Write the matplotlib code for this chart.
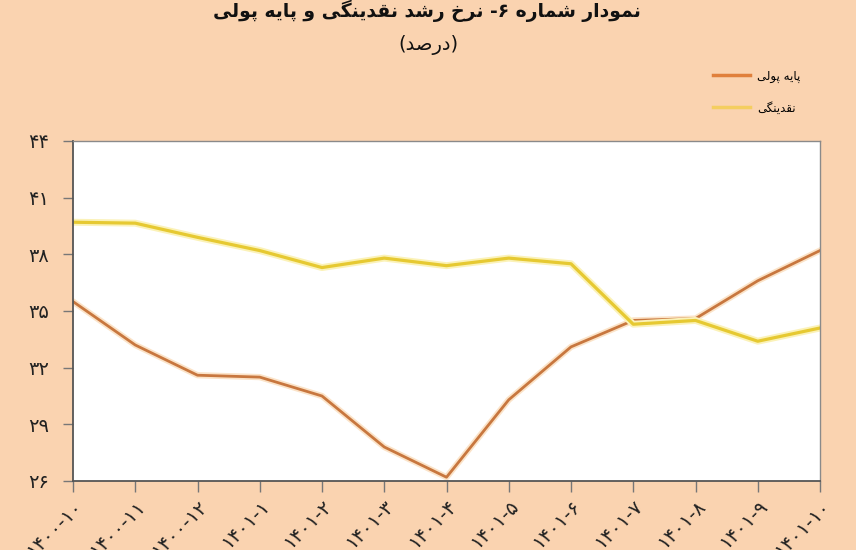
import matplotlib
matplotlib.use("Agg")
import matplotlib.pyplot as plt
from matplotlib.ticker import FuncFormatter
import matplotlib.patheffects as pe

# ---------------- data ----------------
categories = ["۱۴۰۰-۱۰", "۱۴۰۰-۱۱", "۱۴۰۰-۱۲", "۱۴۰۱-۱", "۱۴۰۱-۲", "۱۴۰۱-۳", "۱۴۰۱-۴",
              "۱۴۰۱-۵", "۱۴۰۱-۶", "۱۴۰۱-۷", "۱۴۰۱-۸", "۱۴۰۱-۹", "۱۴۰۱-۱۰"]
monetary_base = [35.5, 33.2, 31.6, 31.5, 30.5, 27.8, 26.2, 30.3, 33.1, 34.5, 34.6, 36.6, 38.2]
liquidity = [39.7, 39.65, 38.9, 38.2, 37.3, 37.8, 37.4, 37.8, 37.5, 34.3, 34.5, 33.4, 34.1]
y_ticks = [26, 29, 32, 35, 38, 41, 44]

title = "نمودار شماره ۶- نرخ رشد نقدینگی و پایه پولی"
subtitle = "درصد"
label_base = "پایه پولی"
label_liq = "نقدینگی"

# ---------------- simple Arabic/Persian shaping (matplotlib has no RTL shaping) --------------
FORMS = {
    '\u0627': ('\uFE8D', '\uFE8E', None, None),
    '\u062F': ('\uFEA9', '\uFEAA', None, None),
    '\u0631': ('\uFEAD', '\uFEAE', None, None),
    '\u0648': ('\uFEED', '\uFEEE', None, None),
    '\u0646': ('\uFEE5', '\uFEE6', '\uFEE7', '\uFEE8'),
    '\u0645': ('\uFEE1', '\uFEE2', '\uFEE3', '\uFEE4'),
    '\u0634': ('\uFEB5', '\uFEB6', '\uFEB7', '\uFEB8'),
    '\u0647': ('\uFEE9', '\uFEEA', '\uFEEB', '\uFEEC'),
    '\u062E': ('\uFEA5', '\uFEA6', '\uFEA7', '\uFEA8'),
    '\u0642': ('\uFED5', '\uFED6', '\uFED7', '\uFED8'),
    '\u06CC': ('\uFBFC', '\uFBFD', '\uFBFE', '\uFBFF'),
    '\u06AF': ('\uFB92', '\uFB93', '\uFB94', '\uFB95'),
    '\u067E': ('\uFB56', '\uFB57', '\uFB58', '\uFB59'),
    '\u0644': ('\uFEDD', '\uFEDE', '\uFEDF', '\uFEE0'),
    '\u0635': ('\uFEB9', '\uFEBA', '\uFEBB', '\uFEBC'),
}


def shape(text):
    out = []
    n = len(text)
    for i, ch in enumerate(text):
        if ch not in FORMS:
            out.append(ch)
            continue
        prev = text[i - 1] if i > 0 else ''
        nxt = text[i + 1] if i + 1 < n else ''
        jp = prev in FORMS and FORMS[prev][2] is not None
        jn = FORMS[ch][2] is not None and nxt in FORMS
        iso, fin, ini, med = FORMS[ch]
        out.append(med if (jp and jn) else fin if jp else ini if jn else iso)
    return ''.join(reversed(out))


PERSIAN_DIGITS = str.maketrans("0123456789", "۰۱۲۳۴۵۶۷۸۹")

BG = "#FAD3B0"
ORANGE = "#C8773F"
YELLOW = "#E6C932"

plt.rcParams['font.family'] = ['DejaVu Sans']

fig = plt.figure(figsize=(8.56, 5.5), dpi=100, facecolor=BG)
ax = fig.add_axes([73 / 856, 1 - 481 / 550, (820 - 73) / 856, (481 - 141) / 550])
ax.set_facecolor("white")

x = list(range(len(categories)))
l1, = ax.plot(x, monetary_base, color=ORANGE, lw=2.0, solid_joinstyle='round',
              path_effects=[pe.Stroke(linewidth=4.5, foreground="#FBE3C8"), pe.Normal()],
              label=shape(label_base))
l2, = ax.plot(x, liquidity, color=YELLOW, lw=2.3, solid_joinstyle='round',
              path_effects=[pe.Stroke(linewidth=5, foreground="#FBF2B8"), pe.Normal()],
              label=shape(label_liq))

ax.set_xlim(0, len(categories) - 1)
ax.set_ylim(26, 44)
ax.set_yticks(y_ticks)
ax.yaxis.set_major_formatter(FuncFormatter(lambda v, p: str(int(round(v))).translate(PERSIAN_DIGITS)))
ax.set_xticks(x)
ax.set_xticklabels(categories, rotation=45, ha='right', va='top', rotation_mode='anchor', fontsize=14)

for s in ['top', 'right']:
    ax.spines[s].set_color('#8a8a8a')
    ax.spines[s].set_linewidth(1.0)
for s in ['left', 'bottom']:
    ax.spines[s].set_color('#555555')
    ax.spines[s].set_linewidth(1.3)

ax.tick_params(axis='y', direction='out', length=7, width=1, color='#777777', pad=10, labelsize=14,
               labelcolor='#222222')
ax.tick_params(axis='x', direction='out', length=8, width=1, color='#777777', pad=3,
               labelcolor='#222222')
ax.grid(False)

fig.text(427 / 856, 1 - 11 / 550, shape(title), ha='center', va='center', fontsize=13.5,
         fontweight='bold', color='#111111')
fig.text(428 / 856, 1 - 45 / 550, "(" + shape(subtitle) + ")", ha='center', va='center',
         fontsize=14, color='#111111')

leg = fig.legend(handles=[l1, l2], loc='upper left', bbox_to_anchor=(702 / 856, 1 - 59 / 550),
                 frameon=False, fontsize=8.5, handlelength=3.2, labelspacing=1.6, handletextpad=0.55)
for ln, c in zip(leg.get_lines(), ["#E0803C", "#F4CE60"]):
    ln.set_path_effects([])
    ln.set_color(c)
    ln.set_linewidth(2.5)

fig.savefig("out.png", dpi=100, facecolor=BG)
